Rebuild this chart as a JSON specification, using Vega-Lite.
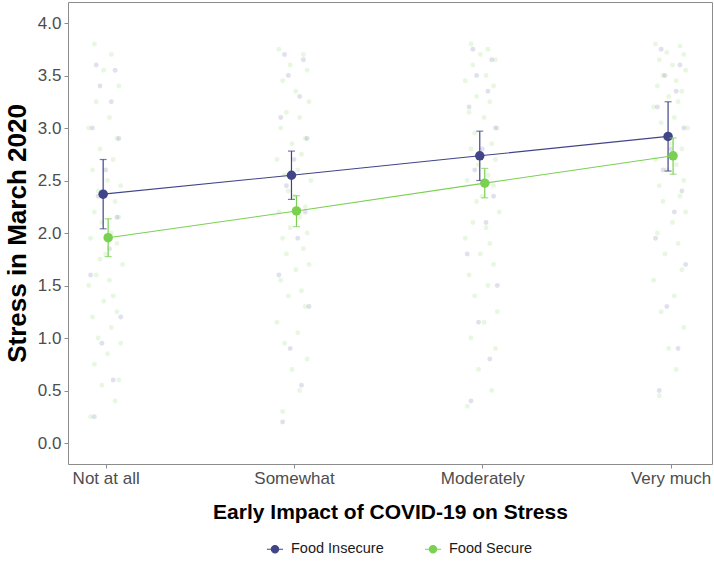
{
  "$schema": "https://vega.github.io/schema/vega-lite/v6.json",
  "width": 644,
  "height": 462,
  "autosize": {"type": "none"},
  "padding": {"left": 68, "top": 2, "right": 2, "bottom": 99},
  "config": {
    "view": {"stroke": "#8C8C8C", "strokeWidth": 1},
    "font": "Liberation Sans",
    "axis": {
      "grid": false,
      "domain": false,
      "tickColor": "#8C8C8C",
      "tickSize": 4,
      "labelColor": "#4D4D4D",
      "labelFontSize": 17,
      "labelFont": "Liberation Sans",
      "titleFont": "Liberation Sans",
      "titleColor": "#000000",
      "titleFontWeight": "bold"
    }
  },
  "datasets": {
    "means": [
      {"g": "Food Insecure", "x": 1, "m": 2.37, "lo": 2.04, "hi": 2.70},
      {"g": "Food Insecure", "x": 2, "m": 2.55, "lo": 2.32, "hi": 2.78},
      {"g": "Food Insecure", "x": 3, "m": 2.735, "lo": 2.50, "hi": 2.97},
      {"g": "Food Insecure", "x": 4, "m": 2.92, "lo": 2.59, "hi": 3.25},
      {"g": "Food Secure", "x": 1, "m": 1.955, "lo": 1.775, "hi": 2.135},
      {"g": "Food Secure", "x": 2, "m": 2.21, "lo": 2.06, "hi": 2.355},
      {"g": "Food Secure", "x": 3, "m": 2.475, "lo": 2.335, "hi": 2.615},
      {"g": "Food Secure", "x": 4, "m": 2.735, "lo": 2.56, "hi": 2.905}
    ],
    "sec": [
      {"x": 0.92, "y": 0.25}, {"x": 1.05, "y": 0.4}, {"x": 0.98, "y": 0.55}, {"x": 1.07, "y": 0.6}, {"x": 0.94, "y": 0.75},
      {"x": 1.01, "y": 0.85}, {"x": 1.08, "y": 0.95}, {"x": 0.96, "y": 1.0}, {"x": 1.03, "y": 1.1}, {"x": 0.93, "y": 1.2},
      {"x": 1.06, "y": 1.25}, {"x": 0.99, "y": 1.35}, {"x": 1.04, "y": 1.4}, {"x": 0.91, "y": 1.5}, {"x": 1.02, "y": 1.55},
      {"x": 0.95, "y": 1.6}, {"x": 1.09, "y": 1.7}, {"x": 0.97, "y": 1.75}, {"x": 1.0, "y": 1.8}, {"x": 1.06, "y": 1.9},
      {"x": 0.92, "y": 1.95}, {"x": 1.03, "y": 2.0}, {"x": 0.98, "y": 2.1}, {"x": 1.07, "y": 2.15}, {"x": 0.94, "y": 2.2},
      {"x": 1.05, "y": 2.3}, {"x": 0.96, "y": 2.4}, {"x": 1.08, "y": 2.45}, {"x": 1.01, "y": 2.5}, {"x": 0.93, "y": 2.6},
      {"x": 1.04, "y": 2.7}, {"x": 0.97, "y": 2.8}, {"x": 1.06, "y": 2.9}, {"x": 0.91, "y": 3.0}, {"x": 1.02, "y": 3.1},
      {"x": 0.95, "y": 3.25}, {"x": 1.07, "y": 3.4}, {"x": 0.99, "y": 3.55}, {"x": 1.03, "y": 3.7}, {"x": 0.94, "y": 3.8},
      {"x": 1.94, "y": 0.3}, {"x": 2.03, "y": 0.5}, {"x": 1.99, "y": 0.7}, {"x": 2.07, "y": 0.8}, {"x": 1.95, "y": 0.95},
      {"x": 2.02, "y": 1.05}, {"x": 1.91, "y": 1.15}, {"x": 2.06, "y": 1.3}, {"x": 1.97, "y": 1.4}, {"x": 2.04, "y": 1.45},
      {"x": 1.93, "y": 1.55}, {"x": 2.01, "y": 1.65}, {"x": 2.08, "y": 1.7}, {"x": 1.96, "y": 1.8}, {"x": 2.05, "y": 1.85},
      {"x": 1.94, "y": 1.95}, {"x": 2.07, "y": 2.0}, {"x": 1.98, "y": 2.05}, {"x": 2.03, "y": 2.15}, {"x": 1.92, "y": 2.2},
      {"x": 2.06, "y": 2.25}, {"x": 2.0, "y": 2.35}, {"x": 1.97, "y": 2.4}, {"x": 2.09, "y": 2.5}, {"x": 1.95, "y": 2.55},
      {"x": 2.02, "y": 2.6}, {"x": 1.91, "y": 2.7}, {"x": 2.04, "y": 2.75}, {"x": 1.99, "y": 2.85}, {"x": 2.06, "y": 2.9},
      {"x": 1.93, "y": 3.0}, {"x": 2.03, "y": 3.1}, {"x": 1.96, "y": 3.15}, {"x": 2.08, "y": 3.25}, {"x": 2.01, "y": 3.35},
      {"x": 1.94, "y": 3.45}, {"x": 2.07, "y": 3.55}, {"x": 1.98, "y": 3.6}, {"x": 2.05, "y": 3.7}, {"x": 1.92, "y": 3.75},
      {"x": 2.92, "y": 0.35}, {"x": 3.05, "y": 0.5}, {"x": 2.98, "y": 0.7}, {"x": 3.07, "y": 0.9}, {"x": 2.94, "y": 1.0},
      {"x": 3.01, "y": 1.15}, {"x": 3.08, "y": 1.25}, {"x": 2.96, "y": 1.4}, {"x": 3.03, "y": 1.5}, {"x": 2.93, "y": 1.6},
      {"x": 3.06, "y": 1.7}, {"x": 2.99, "y": 1.8}, {"x": 3.04, "y": 1.9}, {"x": 2.91, "y": 1.95}, {"x": 3.02, "y": 2.05},
      {"x": 2.95, "y": 2.1}, {"x": 3.09, "y": 2.2}, {"x": 2.97, "y": 2.3}, {"x": 3.0, "y": 2.35}, {"x": 3.06, "y": 2.45},
      {"x": 2.92, "y": 2.5}, {"x": 3.03, "y": 2.55}, {"x": 2.98, "y": 2.65}, {"x": 3.07, "y": 2.7}, {"x": 2.94, "y": 2.8},
      {"x": 3.05, "y": 2.85}, {"x": 2.96, "y": 2.95}, {"x": 3.08, "y": 3.0}, {"x": 3.01, "y": 3.1}, {"x": 2.93, "y": 3.15},
      {"x": 3.04, "y": 3.25}, {"x": 2.97, "y": 3.3}, {"x": 3.06, "y": 3.4}, {"x": 2.91, "y": 3.45}, {"x": 3.02, "y": 3.5},
      {"x": 2.95, "y": 3.6}, {"x": 3.07, "y": 3.65}, {"x": 2.99, "y": 3.7}, {"x": 3.03, "y": 3.75}, {"x": 2.94, "y": 3.8},
      {"x": 3.94, "y": 0.45}, {"x": 4.03, "y": 0.7}, {"x": 3.99, "y": 0.9}, {"x": 4.07, "y": 1.1}, {"x": 3.95, "y": 1.25},
      {"x": 4.02, "y": 1.4}, {"x": 3.91, "y": 1.55}, {"x": 4.06, "y": 1.65}, {"x": 3.97, "y": 1.8}, {"x": 4.04, "y": 1.9},
      {"x": 3.93, "y": 2.0}, {"x": 4.01, "y": 2.1}, {"x": 4.08, "y": 2.2}, {"x": 3.96, "y": 2.3}, {"x": 4.05, "y": 2.35},
      {"x": 3.94, "y": 2.45}, {"x": 4.07, "y": 2.5}, {"x": 3.98, "y": 2.6}, {"x": 4.03, "y": 2.65}, {"x": 3.92, "y": 2.7},
      {"x": 4.06, "y": 2.8}, {"x": 4.0, "y": 2.85}, {"x": 3.97, "y": 2.9}, {"x": 4.09, "y": 3.0}, {"x": 3.95, "y": 3.05},
      {"x": 4.02, "y": 3.1}, {"x": 3.91, "y": 3.2}, {"x": 4.04, "y": 3.25}, {"x": 3.99, "y": 3.3}, {"x": 4.06, "y": 3.35},
      {"x": 3.93, "y": 3.4}, {"x": 4.03, "y": 3.45}, {"x": 3.96, "y": 3.5}, {"x": 4.08, "y": 3.55}, {"x": 4.01, "y": 3.6},
      {"x": 3.94, "y": 3.65}, {"x": 4.07, "y": 3.7}, {"x": 3.98, "y": 3.72}, {"x": 4.05, "y": 3.78}, {"x": 3.92, "y": 3.8}
    ],
    "ins": [
      {"x": 0.94, "y": 0.25}, {"x": 1.04, "y": 0.6}, {"x": 0.98, "y": 0.95}, {"x": 1.08, "y": 1.2}, {"x": 0.92, "y": 1.6},
      {"x": 1.02, "y": 1.85}, {"x": 1.06, "y": 2.15}, {"x": 0.96, "y": 2.35}, {"x": 1.0, "y": 2.6}, {"x": 1.07, "y": 2.9},
      {"x": 0.93, "y": 3.0}, {"x": 1.03, "y": 3.25}, {"x": 0.97, "y": 3.4}, {"x": 1.05, "y": 3.55}, {"x": 0.95, "y": 3.6},
      {"x": 1.94, "y": 0.2}, {"x": 2.04, "y": 0.55}, {"x": 1.98, "y": 0.9}, {"x": 2.08, "y": 1.3}, {"x": 1.92, "y": 1.6},
      {"x": 2.02, "y": 1.95}, {"x": 2.06, "y": 2.2}, {"x": 1.96, "y": 2.45}, {"x": 2.0, "y": 2.7}, {"x": 2.07, "y": 2.9},
      {"x": 1.93, "y": 3.1}, {"x": 2.03, "y": 3.3}, {"x": 1.97, "y": 3.5}, {"x": 2.05, "y": 3.65}, {"x": 1.95, "y": 3.7},
      {"x": 2.94, "y": 0.4}, {"x": 3.04, "y": 0.8}, {"x": 2.98, "y": 1.15}, {"x": 3.08, "y": 1.5}, {"x": 2.92, "y": 1.8},
      {"x": 3.02, "y": 2.1}, {"x": 3.06, "y": 2.35}, {"x": 2.96, "y": 2.6}, {"x": 3.0, "y": 2.8}, {"x": 3.07, "y": 3.0},
      {"x": 2.93, "y": 3.2}, {"x": 3.03, "y": 3.35}, {"x": 2.97, "y": 3.5}, {"x": 3.05, "y": 3.65}, {"x": 2.95, "y": 3.75},
      {"x": 3.94, "y": 0.5}, {"x": 4.04, "y": 0.9}, {"x": 3.98, "y": 1.3}, {"x": 4.08, "y": 1.7}, {"x": 3.92, "y": 1.95},
      {"x": 4.02, "y": 2.2}, {"x": 4.06, "y": 2.4}, {"x": 3.96, "y": 2.6}, {"x": 4.0, "y": 2.8}, {"x": 4.07, "y": 3.0},
      {"x": 3.93, "y": 3.2}, {"x": 4.03, "y": 3.35}, {"x": 3.97, "y": 3.5}, {"x": 4.05, "y": 3.6}, {"x": 3.95, "y": 3.75}
    ]
  },
  "encoding": {
    "x": {
      "field": "x",
      "type": "quantitative",
      "scale": {"domain": [0.8, 4.22], "nice": false, "zero": false},
      "axis": {
        "title": "Early Impact of COVID-19 on Stress",
        "titleFontSize": 21,
        "titlePadding": 15,
        "values": [1, 2, 3, 4],
        "labelExpr": "['', 'Not at all', 'Somewhat', 'Moderately', 'Very much'][datum.value]",
        "labelPadding": 2,
        "labelFlush": false,
        "labelOverlap": false
      }
    }
  },
  "layer": [
    {
      "data": {"name": "sec"},
      "mark": {"type": "point", "filled": true, "size": 24, "opacity": 0.18, "color": "#7AD151"},
      "encoding": {
        "y": {
          "field": "y",
          "type": "quantitative",
          "scale": {"domain": [-0.2, 4.2], "nice": false, "zero": false},
          "axis": {
            "title": "Stress in March 2020",
            "titleFontSize": 26,
            "titlePadding": 7,
            "values": [0, 0.5, 1, 1.5, 2, 2.5, 3, 3.5, 4],
            "format": ".1f",
            "labelPadding": 3
          }
        }
      }
    },
    {
      "data": {"name": "ins"},
      "mark": {"type": "point", "filled": true, "size": 24, "opacity": 0.16, "color": "#414487"},
      "encoding": {"y": {"field": "y", "type": "quantitative"}}
    },
    {
      "data": {"name": "means"},
      "transform": [{"filter": {"field": "g", "equal": "Food Insecure"}}],
      "layer": [
        {"mark": {"type": "line", "color": "#414487", "strokeWidth": 1.1, "xOffset": -2.5}, "encoding": {"y": {"field": "m", "type": "quantitative"}}},
        {"mark": {"type": "rule", "color": "#414487", "strokeWidth": 1.2, "xOffset": -2.5}, "encoding": {"y": {"field": "lo", "type": "quantitative"}, "y2": {"field": "hi"}}},
        {"mark": {"type": "tick", "orient": "horizontal", "color": "#414487", "size": 7, "thickness": 1.2, "xOffset": -2.5}, "encoding": {"y": {"field": "lo", "type": "quantitative"}}},
        {"mark": {"type": "tick", "orient": "horizontal", "color": "#414487", "size": 7, "thickness": 1.2, "xOffset": -2.5}, "encoding": {"y": {"field": "hi", "type": "quantitative"}}},
        {
          "mark": {"type": "point", "filled": true, "size": 90, "opacity": 1, "xOffset": -2.5, "strokeWidth": 0},
          "encoding": {
            "y": {"field": "m", "type": "quantitative"},
            "fill": {
              "field": "g", "type": "nominal",
              "scale": {"domain": ["Food Insecure", "Food Secure"], "range": ["#414487", "#7AD151"]},
              "legend": {
                "title": null,
                "orient": "none",
                "direction": "horizontal",
                "legendX": 198,
                "legendY": 538,
                "symbolType": "M-1,0H1M-0.45,0A0.45,0.45,0,1,0,0.45,0A0.45,0.45,0,1,0,-0.45,0Z",
                "symbolSize": 260,
                "symbolStrokeWidth": 1.2,
                "labelFontSize": 14.5,
                "labelColor": "#1A1A1A",
                "labelFont": "Liberation Sans",
                "columnPadding": 38,
                "labelOffset": 7
              }
            },
            "stroke": {
              "field": "g", "type": "nominal",
              "scale": {"domain": ["Food Insecure", "Food Secure"], "range": ["#414487", "#7AD151"]}
            }
          }
        }
      ]
    },
    {
      "data": {"name": "means"},
      "transform": [{"filter": {"field": "g", "equal": "Food Secure"}}],
      "layer": [
        {"mark": {"type": "line", "color": "#7AD151", "strokeWidth": 1.1, "xOffset": 2.5}, "encoding": {"y": {"field": "m", "type": "quantitative"}}},
        {"mark": {"type": "rule", "color": "#7AD151", "strokeWidth": 1.2, "xOffset": 2.5}, "encoding": {"y": {"field": "lo", "type": "quantitative"}, "y2": {"field": "hi"}}},
        {"mark": {"type": "tick", "orient": "horizontal", "color": "#7AD151", "size": 7, "thickness": 1.2, "xOffset": 2.5}, "encoding": {"y": {"field": "lo", "type": "quantitative"}}},
        {"mark": {"type": "tick", "orient": "horizontal", "color": "#7AD151", "size": 7, "thickness": 1.2, "xOffset": 2.5}, "encoding": {"y": {"field": "hi", "type": "quantitative"}}},
        {
          "mark": {"type": "point", "filled": true, "size": 90, "opacity": 1, "xOffset": 2.5, "strokeWidth": 0},
          "encoding": {
            "y": {"field": "m", "type": "quantitative"},
            "fill": {"field": "g", "type": "nominal"},
            "stroke": {"field": "g", "type": "nominal"}
          }
        }
      ]
    }
  ]
}
